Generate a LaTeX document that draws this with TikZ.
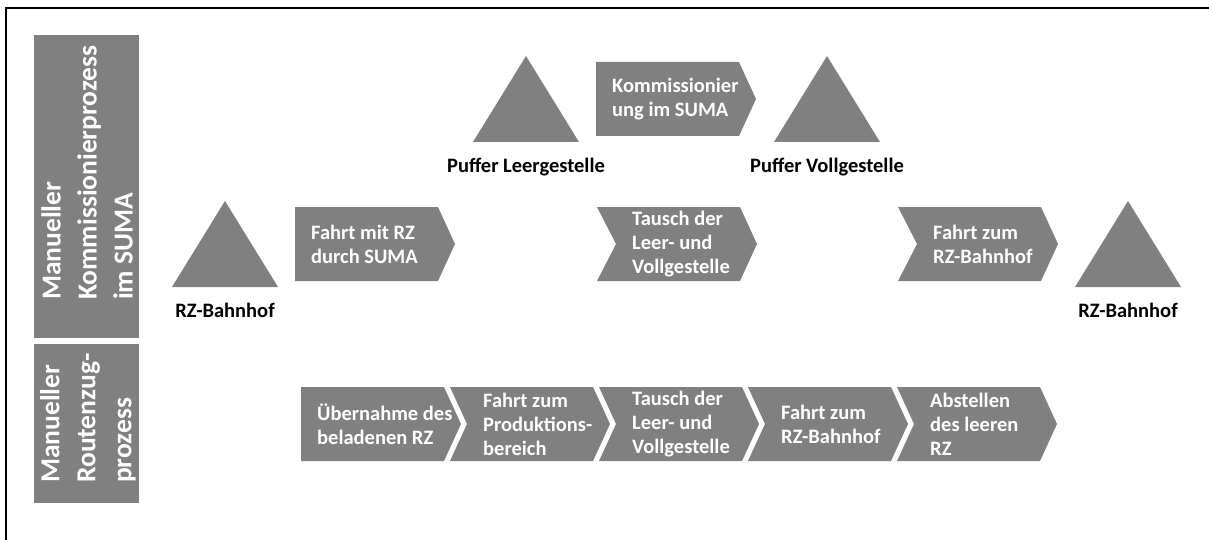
\documentclass[tikz,border=0pt]{standalone}
\usepackage{fontspec}
\setmainfont{Carlito}
\usetikzlibrary{calc}

\definecolor{boxgray}{RGB}{128,128,128}

\tikzset{
    lanebox/.style={fill=boxgray, inner sep=0pt, minimum width=105pt},
    lanetext/.style={text=white, rotate=90, anchor=west, align=left, inner sep=0pt,
        font=\bfseries\fontsize{27.5}{36}\selectfont},
    proctext/.style={text=white, anchor=west, align=left, inner sep=0pt,
        font=\bfseries\fontsize{20.5}{24}\selectfont},
    stocklabel/.style={anchor=base, inner sep=0pt,
        font=\bfseries\fontsize{20.5}{24}\selectfont},
}

% process step: name, left x, top y, notch depth (0 = flat start), text
\newcommand{\ProcStep}[5]{
    \fill[boxgray] (#2,#3) -- ++(143,0) -- ++(17,37) -- ++(-17,37) -- ++(-143,0) -- ++(#4,-37) -- cycle;
    \node[proctext] (#1) at (#2+#4+16,#3+37) {#5};
}
% stock triangle: name, centre x, base y, label
\newcommand{\StockMark}[4]{
    \fill[boxgray] (#2-53,#3) -- (#2,#3-86) -- (#2+53,#3) -- cycle;
    \node[stocklabel] (#1) at (#2,#3+30) {#4};
}

\begin{document}
\begin{tikzpicture}[x=1pt, y=-1pt]
    \useasboundingbox (0,0) rectangle (1209,540);
    \draw[line width=1.3pt] (6,540) -- (6,8) -- (1209,8);

    % swimlane headers
    \node[lanebox, minimum height=303pt] (laneSuma) at (86.5,186.5) {};
    \node[lanebox, minimum height=159pt] (laneRz) at (86.5,423.5) {};
    \node[lanetext] (laneSumaText) at (87,300) {Manueller\\Kommissionierprozess\\im SUMA};
    \node[lanetext] (laneRzText) at (88,483) {Manueller\\Routenzug-\\prozess};

    % picking in the supermarket
    \StockMark{bhfA}{225}{287}{RZ-Bahnhof}
    \StockMark{leer}{526}{142}{Puffer Leergestelle}
    \StockMark{voll}{827}{142}{Puffer Vollgestelle}
    \StockMark{bhfB}{1128}{287}{RZ-Bahnhof}

    \ProcStep{fahrtSuma}{295}{207}{0}{Fahrt mit RZ\\durch SUMA}
    \ProcStep{kommi}{596}{62}{0}{Kommissionier\\ung im SUMA}
    \ProcStep{tauschSuma}{597}{207}{19}{Tausch der\\Leer- und\\Vollgestelle}
    \ProcStep{fahrtBhf}{898}{207}{19}{Fahrt zum\\RZ-Bahnhof}

    % tugger train chain
    \foreach \nm/\lx/\nd/\txt in {
        uebernahme/301/0/{Übernahme des\\beladenen RZ},
        fahrtProd/450/17/{Fahrt zum\\Produktions-\\bereich},
        tauschProd/599/17/{Tausch der\\Leer- und\\Vollgestelle},
        fahrtZurueck/748/17/{Fahrt zum\\RZ-Bahnhof},
        abstellen/897/17/{Abstellen\\des leeren\\RZ}}{
        \ProcStep{\nm}{\lx}{387}{\nd}{\txt}
    }
\end{tikzpicture}
\end{document}
